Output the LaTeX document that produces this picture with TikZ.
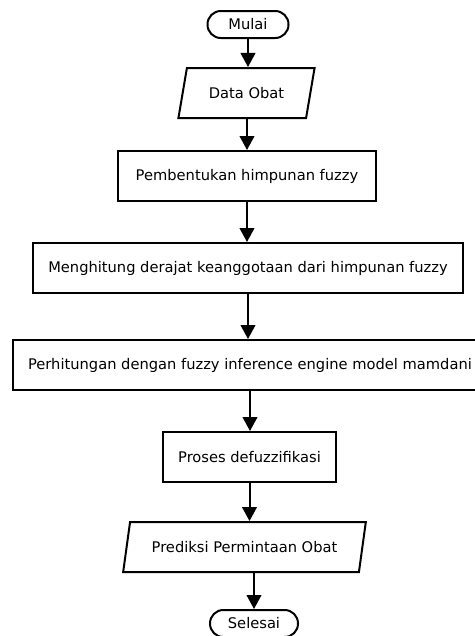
\documentclass[tikz,border=0pt]{standalone}
\usepackage{fontspec}
\setmainfont{DejaVu Sans}
\usetikzlibrary{arrows.meta,shapes.geometric}

\begin{document}
\begin{tikzpicture}[x=0.75pt, y=-0.75pt, >={Triangle[width=11pt,length=10.5pt]},
  every node/.style={font=\fontsize{11pt}{13pt}\selectfont, line width=1.5pt, draw, inner sep=2pt},
  terminal/.style={rectangle, rounded corners=10pt, minimum height=20.25pt},
  process/.style={rectangle, minimum height=37.5pt},
  io/.style={trapezium, trapezium left angle=71, trapezium right angle=109,
    trapezium stretches=true, minimum height=37.5pt},
  flow/.style={->, line width=1.5pt}]
\useasboundingbox (0,0) rectangle (475,636);
\clip (0,0) rectangle (475,636);

% start and input
\node[terminal, minimum width=60.75pt] (mulai) at (248,24.5) {Mulai};
\node[io, minimum width=102.75pt] (data) at (246.5,93) {Data Obat};

% process steps
\node[process, minimum width=193.5pt] (bentuk) at (247,176) {Pembentukan himpunan fuzzy};
\node[process, minimum width=322.5pt] (derajat) at (248,268) {Menghitung derajat keanggotaan dari himpunan fuzzy};
\node[process, minimum width=355.5pt] (inferensi) at (250,365) {Perhitungan dengan fuzzy inference engine model mamdani};
\node[process, minimum width=129.75pt] (defuzz) at (249.5,457) {Proses defuzzifikasi};

% output and end
\node[io, minimum width=182.25pt] (prediksi) at (244.5,547) {Prediksi Permintaan Obat};
\node[terminal, minimum width=66pt] (selesai) at (254,623.5) {Selesai};

\draw[flow] (mulai.south) -- (mulai.south |- data.north);
\draw[flow] (bentuk.north |- data.south) -- (bentuk.north);
\draw[flow] (bentuk.south) -- (bentuk.south |- derajat.north);
\draw[flow] (derajat.south) -- (derajat.south |- inferensi.north);
\draw[flow] (inferensi.south) -- (inferensi.south |- defuzz.north);
\draw[flow] (defuzz.south) -- (defuzz.south |- prediksi.north);
\draw[flow] (selesai.north |- prediksi.south) -- (selesai.north);
\end{tikzpicture}
\end{document}
